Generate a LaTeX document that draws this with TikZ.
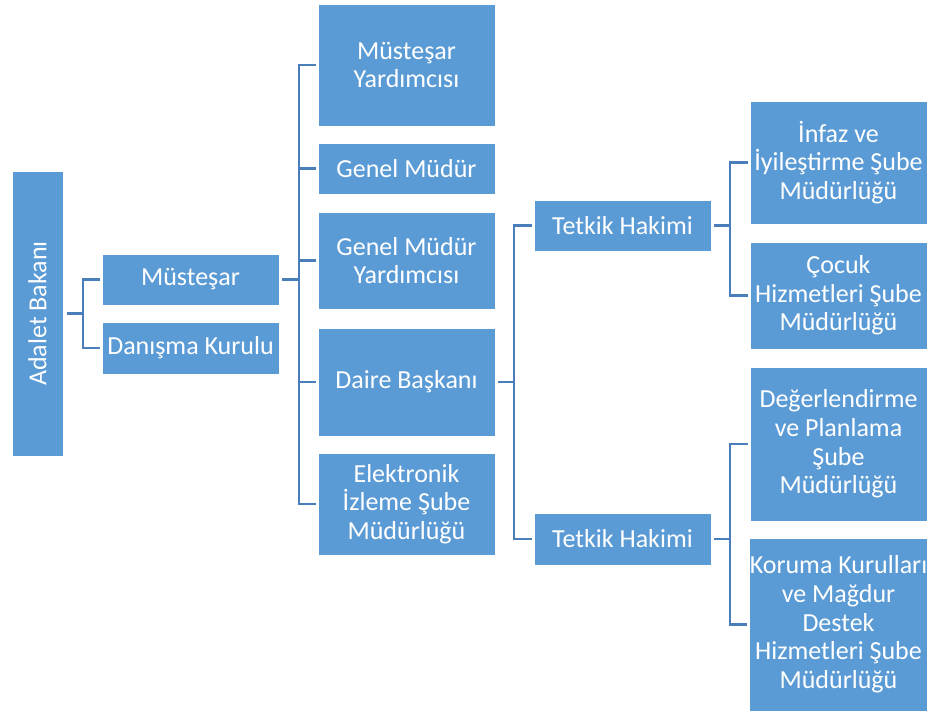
\documentclass[tikz,border=0pt]{standalone}
\usepackage{fontspec}
\setmainfont{Carlito}
\definecolor{boxblue}{HTML}{5B9BD5}
\definecolor{linkblue}{HTML}{4A7EBB}
\tikzset{
    unit/.style={fill=boxblue, draw=white, line width=0.6pt, text=white, align=center, inner sep=0pt, minimum width=132.75pt, font=\fontsize{19.5}{21.5}\selectfont},
    link/.style={draw=linkblue, line width=1.8pt},
}
\begin{document}
\begin{tikzpicture}[x=0.75pt, y=-0.75pt]
            
            \useasboundingbox (0,0) rectangle (936,713);
            
            \node[unit, minimum width=38.25pt, minimum height=213.75pt] (ab) at (37.5,313.5) {\rotatebox{90}{Adalet Bakanı}};
            \node[unit, minimum height=38.25pt] (must) at (190.5,279.5) {Müsteşar};
            \node[unit, minimum height=39pt] (danisma) at (190.5,348) {Danışma Kurulu};
            
            \node[unit, minimum height=91.5pt] (my) at (406.5,65) {Müsteşar\\Yardımcısı};
            \node[unit, minimum height=38.25pt] (gm) at (406.5,168.5) {Genel Müdür};
            \node[unit, minimum height=72.75pt] (gmy) at (406.5,260.5) {Genel Müdür\\Yardımcısı};
            \node[unit, minimum height=81pt] (db) at (406.5,382) {Daire Başkanı};
            \node[unit, minimum height=76.5pt] (ei) at (406.5,504) {Elektronik\\İzleme Şube\\Müdürlüğü};
            
            \node[unit, minimum height=38.25pt] (th1) at (622.5,225.5) {Tetkik Hakimi};
            \node[unit, minimum height=39pt] (th2) at (622.5,539) {Tetkik Hakimi};
            
            \node[unit, minimum height=92.25pt] (inf) at (838.5,162.5) {İnfaz ve\\İyileştirme Şube\\Müdürlüğü};
            \node[unit, minimum height=80.25pt] (coc) at (838.5,295.5) {Çocuk\\Hizmetleri Şube\\Müdürlüğü};
            \node[unit, minimum height=115.5pt] (deg) at (838.5,444) {Değerlendirme\\ve Planlama\\Şube\\Müdürlüğü};
            \node[unit, minimum height=129.75pt] (kor) at (838.5,624.5) {Koruma Kurulları\\ve Mağdur\\Destek\\Hizmetleri Şube\\Müdürlüğü};
            
            \coordinate (j1) at (83,313.5);
            \coordinate (j2) at (299,279.5);
            \coordinate (j3) at (514,382);
            \coordinate (j4) at (730,225.5);
            \coordinate (j5) at (730,539);
            
            \draw[link, shorten <=3pt] (ab.east) -- (j1);
            \foreach \n in {must,danisma} \draw[link, shorten >=1.5pt] (j1) |- (\n.west);
            
            \draw[link, shorten <=2pt] (must.east) -- (j2);
            \foreach \n in {my,gm,gmy,db,ei} \draw[link, shorten >=1.5pt] (j2) |- (\n.west);
            
            \draw[link, shorten <=2pt] (db.east) -- (j3);
            \foreach \n in {th1,th2} \draw[link, shorten >=1.5pt] (j3) |- (\n.west);
            
            \draw[link, shorten <=2pt] (th1.east) -- (j4);
            \foreach \n in {inf,coc} \draw[link, shorten >=1.5pt] (j4) |- (\n.west);
            
            \draw[link, shorten <=2pt] (th2.east) -- (j5);
            \foreach \n in {deg,kor} \draw[link, shorten >=1.5pt] (j5) |- (\n.west);
            
        \end{tikzpicture}
\end{document}
